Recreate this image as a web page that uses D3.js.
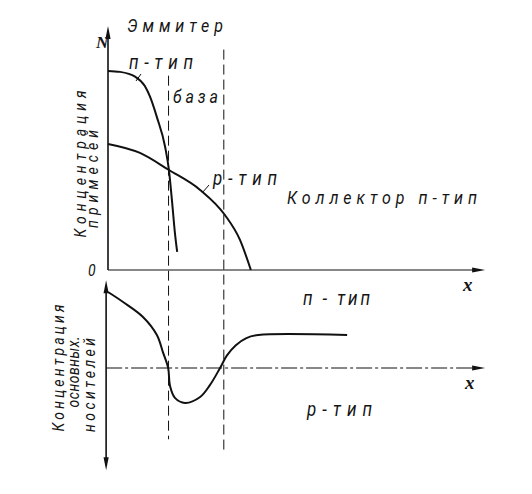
<!DOCTYPE html>
<html>
<head>
<meta charset="utf-8">
<script src="https://cdn.jsdelivr.net/npm/d3@7"></script>
<style>
  html, body { margin: 0; padding: 0; background: #fff; }
  #chart { width: 532px; height: 494px; }
  text { font-family: Roboto, "Liberation Sans", sans-serif; font-style: italic; font-weight: 400; fill: #151515; }
</style>
</head>
<body>
<div id="chart"></div>
<script>
// Распределение примесей и основных носителей в транзисторе (вверху — N, внизу — носители)

// --- Данные (условные единицы по оси x: 0..100) ---
const emitterN = [ // эмиттер n-тип
  [0, 84.0], [3.2, 83.6], [7.2, 81.6], [9.8, 77.6], [11.2, 73.0], [13.0, 64.5],
  [15.2, 51.9], [16.2, 42.2], [17.0, 29.5], [17.8, 15.6], [18.4, 7.6]
];
const baseP = [ // база p-тип
  [0, 53.2], [8.5, 49.4], [16.2, 42.2], [24.5, 33.8], [31.1, 23.2], [35.1, 12.7], [38.0, 0]
];
const carriers = [ // концентрация основных носителей
  [0, 32.0], [4.0, 27.8], [9.3, 21.5], [13.0, 13.9], [14.6, 6.7], [16.0, 0],
  [16.5, -7.6], [17.8, -12.6], [20.5, -14.7], [24.5, -12.2], [27.1, -7.2],
  [29.8, 0], [31.6, 5.2], [34.0, 9.6], [36.8, 12.6], [40.0, 13.9], [63.6, 13.9]
];
const junctions = [16.1, 30.8]; // границы эмиттер/база и база/коллектор

(function () {
  const W = 532, H = 494;
  const svg = d3.select("#chart").append("svg")
    .attr("width", W).attr("height", H);

  const x = d3.scaleLinear().domain([0, 100]).range([108, 484]);
  const yTop = d3.scaleLinear().domain([0, 100]).range([270, 33]);
  const yLow = d3.scaleLinear().domain([-40, 40]).range([463, 273]);

  const ink = "#111";

  function arrow(tipX, tipY, dir) {
    // узкая стрелка: dir = "up" | "down" | "right"
    const L = 13, w = 2.6;
    let pts;
    if (dir === "up") pts = [[tipX, tipY], [tipX - w, tipY + L], [tipX + w, tipY + L]];
    else if (dir === "down") pts = [[tipX, tipY], [tipX - w, tipY - L], [tipX + w, tipY - L]];
    else pts = [[tipX, tipY], [tipX - L, tipY - w], [tipX - L, tipY + w]];
    svg.append("path")
      .attr("d", "M" + pts.map(p => p.join(",")).join("L") + "Z")
      .attr("fill", ink);
  }

  // --- Пунктирные границы переходов ---
  const dashTop = [82, 93], dashBot = [-30, -36];
  junctions.forEach((j, i) => {
    svg.append("line")
      .attr("x1", x(j)).attr("x2", x(j))
      .attr("y1", yTop(dashTop[i])).attr("y2", yLow(dashBot[i]))
      .attr("stroke", ink).attr("stroke-width", 1)
      .attr("stroke-dasharray", "10,5");
  });

  // --- Оси: верхний график ---
  svg.append("line")
    .attr("x1", x(0)).attr("x2", x(0))
    .attr("y1", yTop(0)).attr("y2", yTop(101))
    .attr("stroke", ink).attr("stroke-width", 1.6);
  arrow(x(0), yTop(103), "up");

  svg.append("line")
    .attr("x1", x(0)).attr("x2", x(98))
    .attr("y1", yTop(0)).attr("y2", yTop(0))
    .attr("stroke", ink).attr("stroke-width", 1.2);
  arrow(x(100.3), yTop(0), "right");

  // --- Оси: нижний график ---
  svg.append("line")
    .attr("x1", x(-0.5)).attr("x2", x(-0.5))
    .attr("y1", yLow(35)).attr("y2", yLow(-41))
    .attr("stroke", ink).attr("stroke-width", 1.6);
  arrow(x(-0.5), yLow(37), "up");
  arrow(x(-0.5), yLow(-43), "down");

  svg.append("line")
    .attr("x1", x(-0.5)).attr("x2", x(98))
    .attr("y1", yLow(0)).attr("y2", yLow(0))
    .attr("stroke", ink).attr("stroke-width", 1.2)
    .attr("stroke-dasharray", "16,3,3,3");
  arrow(x(100.3), yLow(0), "right");

  // --- Кривые ---
  const lineTop = d3.line().x(d => x(d[0])).y(d => yTop(d[1]))
    .curve(d3.curveMonotoneX);
  const lineLow = d3.line().x(d => x(d[0])).y(d => yLow(d[1]))
    .curve(d3.curveCatmullRom.alpha(0.5));

  [emitterN, baseP].forEach(data => {
    svg.append("path").attr("d", lineTop(data))
      .attr("fill", "none").attr("stroke", ink).attr("stroke-width", 2);
  });
  svg.append("path").attr("d", lineLow(carriers))
    .attr("fill", "none").attr("stroke", ink).attr("stroke-width", 2);

  // выноски к подписям
  svg.append("line").attr("x1", 136).attr("y1", 81).attr("x2", 141).attr("y2", 74)
    .attr("stroke", ink).attr("stroke-width", 1);
  svg.append("line").attr("x1", 202).attr("y1", 193).attr("x2", 209).attr("y2", 185)
    .attr("stroke", ink).attr("stroke-width", 1);

  // --- Подписи (шрифт чуть вытянут по вертикали, как в чертёжном) ---
  function label(txt, px, py, len, size, extra) {
    const t = svg.append("text")
      .attr("transform", `translate(${px},${py}) scale(1,1.2)`)
      .style("font-size", size + "px")
      .text(txt);
    if (len) t.attr("textLength", len).attr("lengthAdjust", "spacing");
    if (extra) extra(t);
    return t;
  }

  label("Эммитер", 127, 32, 96, 16);
  label("п-тип", 129, 69, 64, 17);
  label("база", 173, 103, 45, 16);
  label("р-тип", 213, 185, 64, 17);
  label("Коллектор п-тип", 287, 204, 190, 16);
  label("п - тип", 303, 305, 67, 17);
  label("р-тип", 307, 416, 65, 17);
  label("0", 88, 276, null, 14);

  const serifBold = t => t.style("font-family", "'Liberation Serif', serif")
    .style("font-weight", "bold").attr("transform", t.attr("transform").replace(/ scale.*/, ""));
  label("N", 96, 48, null, 17, serifBold);
  label("x", 463, 291, null, 19, serifBold);
  label("x", 465, 389, null, 19, serifBold);

  // вертикальные подписи осей
  function vlabel(txt, bx, cy, len) {
    svg.append("text")
      .attr("transform", `translate(${bx},${cy}) rotate(-90) scale(1,1.15)`)
      .attr("text-anchor", "middle")
      .attr("textLength", len).attr("lengthAdjust", "spacing")
      .style("font-size", "14px")
      .text(txt);
  }
  vlabel("Концентрация", 86, 164, 147);
  vlabel("примесей", 98, 179, 98);
  vlabel("Концентрация", 64, 368, 127);
  vlabel("основных.", 79, 372, 71);
  vlabel("носителей", 95, 385, 94);
})();
</script>
</body>
</html>
